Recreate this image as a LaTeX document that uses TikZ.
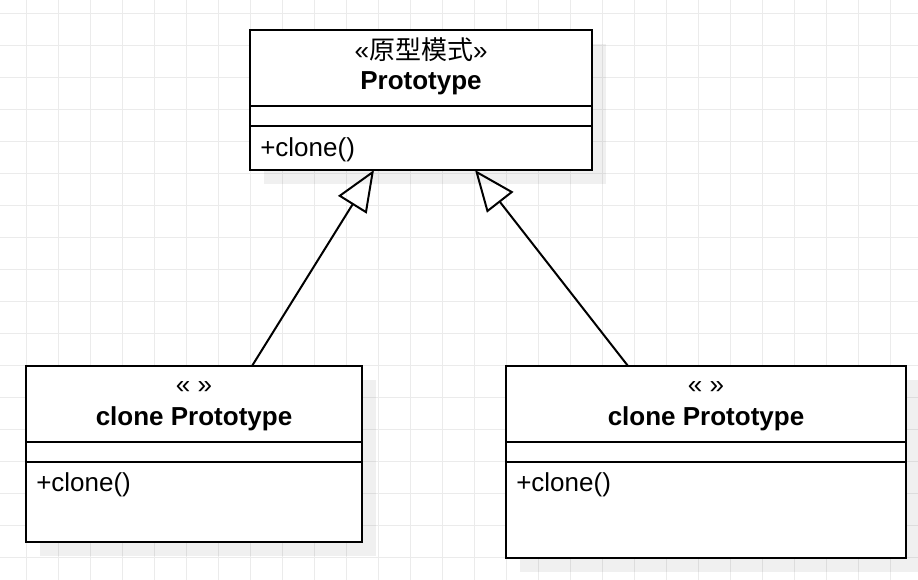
\documentclass[tikz,border=0pt]{standalone}
\usepackage{fontspec}
\setmainfont{Liberation Sans}
\newfontfamily\cjk{Noto Sans CJK SC}
\usetikzlibrary{arrows.meta,calc}

\definecolor{gridgray}{RGB}{235,235,235}
\newcommand{\umlfont}{\fontsize{19.5}{23}\selectfont}

\tikzset{
  gridline/.style={draw=gridgray, line width=0.75pt},
  boxshadow/.style={fill=black, fill opacity=0.06},
  classbox/.style={draw=black, fill=white, line width=1.5pt, rectangle, anchor=north west, inner sep=0pt, outer sep=0pt},
  divider/.style={draw=black, line width=1.5pt},
  umltext/.style={inner sep=0pt, font=\umlfont},
  inherit/.style={draw=black, line width=1.5pt, -{Triangle[open, length=30.75pt, width=25pt]}}
}

\begin{document}
\begin{tikzpicture}[x=0.75pt,y=0.75pt,yscale=-1,xscale=1]
\useasboundingbox (0,0) rectangle (918,580);
\fill[white] (0,0) rectangle (918,580);

%Grid
\foreach \i in {0,...,28} \draw[gridline] (26.5+32*\i,0) -- (26.5+32*\i,580);
\foreach \j in {0,...,17} \draw[gridline] (0,14+32*\j) -- (918,14+32*\j);

%Shadows
\fill[boxshadow] (264,44) rectangle (606,184);
\fill[boxshadow] (40,380) rectangle (376,556);
\fill[boxshadow] (520,380) rectangle (920,572);

%Shape: Rectangle
\node[classbox, minimum width=256.5pt, minimum height=105pt] (protoBox) at (250,30) {};
\draw[divider] (250,106) -- (592,106);
\draw[divider] (250,126) -- (592,126);
%Shape: Rectangle
\node[classbox, minimum width=252pt, minimum height=132pt] (cloneA) at (26,366) {};
\draw[divider] (26,442) -- (362,442);
\draw[divider] (26,462) -- (362,462);
%Shape: Rectangle
\node[classbox, minimum width=300pt, minimum height=144pt] (cloneB) at (506,366) {};
\draw[divider] (506,442) -- (906,442);
\draw[divider] (506,462) -- (906,462);

%Generalization
\draw[inherit] ($(cloneA.north)+(58,0)$) -- ($(protoBox.south)+(-47,0)$);
\draw[inherit] ($(cloneB.north)+(-78,0)$) -- ($(protoBox.south)+(54,0)$);

% Text Node
\node[umltext, anchor=base] (protoStereo) at (421,60) {«{\cjk 原型模式}»};
% Text Node
\node[umltext, anchor=base, font=\umlfont\bfseries] (protoName) at (421,90) {Prototype};
% Text Node
\node[umltext, anchor=base west] (protoOp) at (260,157) {+clone()};
% Text Node
\node[umltext, anchor=base] (cloneAStereo) at (194,394) {« »};
% Text Node
\node[umltext, anchor=base, font=\umlfont\bfseries] (cloneAName) at (194,426) {clone Prototype};
% Text Node
\node[umltext, anchor=base west] (cloneAOp) at (36,492) {+clone()};
% Text Node
\node[umltext, anchor=base] (cloneBStereo) at (706,394) {« »};
% Text Node
\node[umltext, anchor=base, font=\umlfont\bfseries] (cloneBName) at (706,426) {clone Prototype};
% Text Node
\node[umltext, anchor=base west] (cloneBOp) at (516,492) {+clone()};

\end{tikzpicture}
\end{document}
